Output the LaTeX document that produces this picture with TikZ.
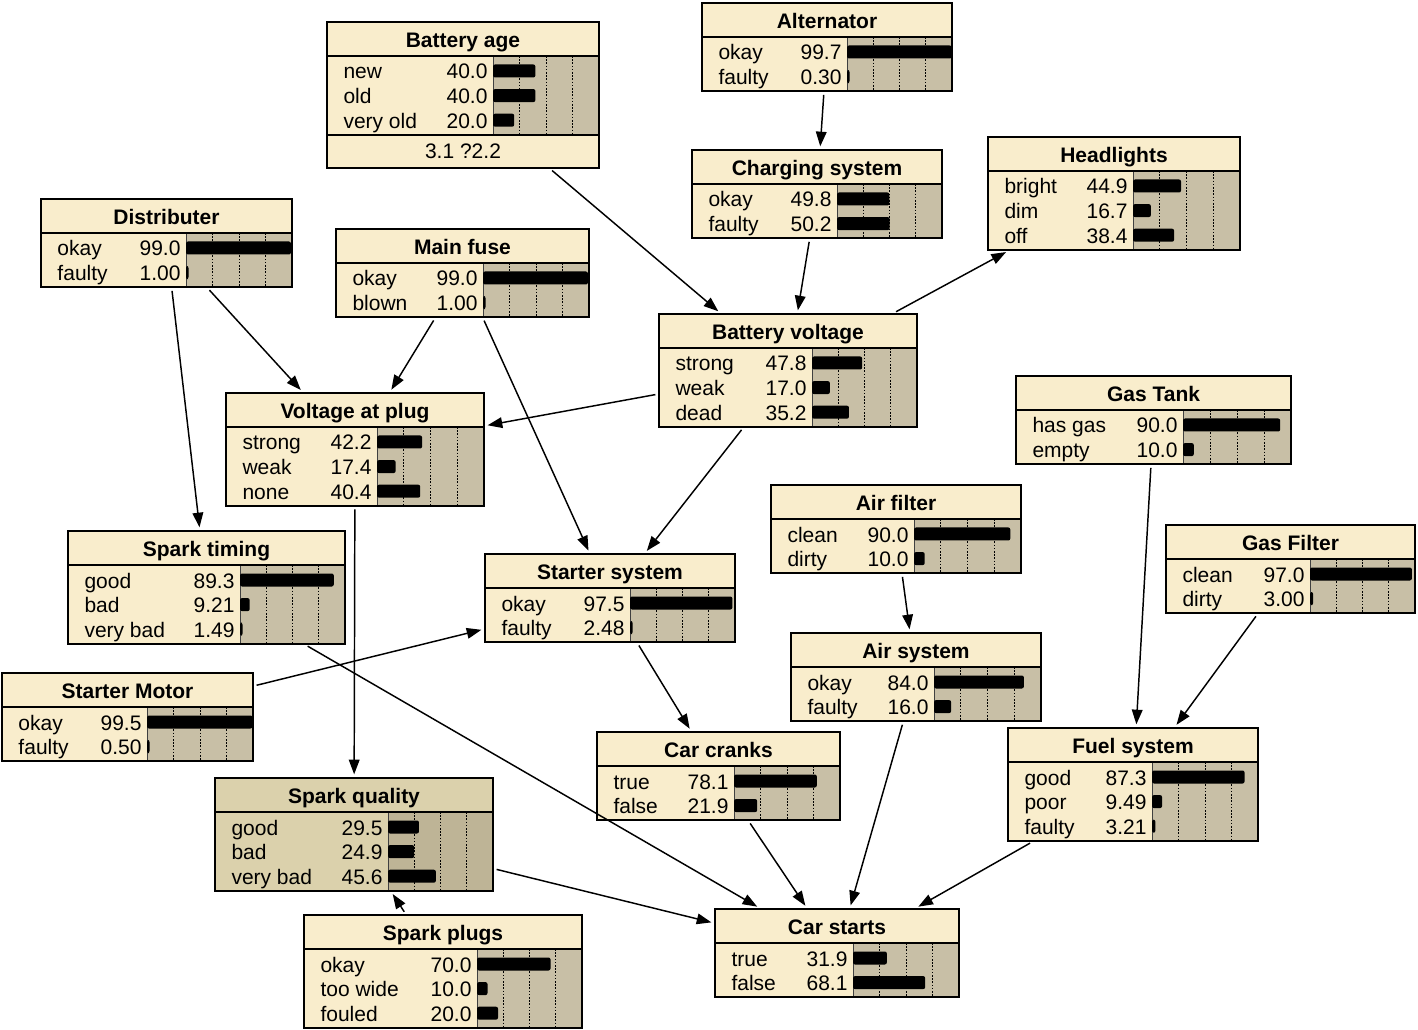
\documentclass[tikz,border=0pt]{standalone}
\usepackage{fontspec}
\setmainfont{Liberation Sans}
\usetikzlibrary{arrows.meta,fit}

\definecolor{headA}{RGB}{249,237,204}
\definecolor{panelA}{RGB}{200,191,166}
\definecolor{headB}{RGB}{219,209,172}
\definecolor{panelB}{RGB}{190,180,150}

\tikzset{every picture/.style={line width=0.75pt}}
\tikzset{
  netframe/.style={draw, line width=1.5pt, inner sep=0pt},
  sepline/.style={line width=1.5pt},
  gridline/.style={line width=0.75pt, dash pattern=on 1.2pt off 1.2pt},
  probbar/.style={fill=black, rounded corners=1.5pt},
  titletext/.style={font=\fontsize{15.75}{18}\selectfont\bfseries, inner sep=0pt, anchor=base},
  statetext/.style={font=\fontsize{15.75}{18}\selectfont, inner sep=0pt},
  edgearrow/.style={-{Triangle[length=11pt,width=8pt]}, line width=1.1pt, shorten >=2pt, shorten <=2pt},
}

% #1 colour set, #2 name, #3 left, #4 top, #5 width, #6 label part width, #7 title, #8 states, #9 footer
\newcommand{\netnode}[9][A]{%
  \foreach \s/\v [count=\k] in {#8} {\xdef\nst{\k}}%
  \pgfmathsetmacro{\yl}{#4+34}%
  \pgfmathsetmacro{\yr}{#4+34+24.6*\nst+5}%
  \pgfmathsetmacro{\xp}{#3+#6}%
  \pgfmathsetmacro{\xr}{#3+#5}%
  \pgfmathsetmacro{\pw}{#5-#6}%
  \ifx\relax#9\relax \let\yb\yr \else \pgfmathsetmacro{\yb}{\yr+33}\fi
  \fill[head#1] (#3,#4) rectangle (\xr,\yb);
  \fill[panel#1] (\xp,\yl) rectangle (\xr,\yr);
  \foreach \f in {0.25,0.5,0.75} \draw[gridline] ({\xp+\f*\pw},\yl) -- ({\xp+\f*\pw},\yr);
  \draw[black!75] (\xp,\yl) -- (\xp,\yr);
  \draw[sepline] (#3,\yl) -- (\xr,\yl);
  \node[titletext] at ({#3+#5/2},{#4+25.5}) {#7};
  \foreach \s/\v [count=\k] in {#8} {
    \pgfmathsetmacro{\yy}{#4+49+24.6*(\k-1)}
    \node[statetext, anchor=base west] at ({#3+16},{\yy+8}) {\s};
    \node[statetext, anchor=base east] at ({\xp-5},{\yy+8}) {\v};
    \fill[probbar] (\xp,{\yy-6.5}) rectangle ({\xp+max(\v/100*\pw,2.5)},{\yy+6.5});
  }
  \ifx\relax#9\relax\else
    \draw[sepline] (#3,\yr) -- (\xr,\yr);
    \node[statetext, anchor=base] at ({#3+#5/2},{\yr+24}) {#9};
  \fi
  \node[netframe, fit={(#3,#4) (\xr,\yb)}] (#2) {};
}

\begin{document}
\begin{tikzpicture}[x=0.75pt,y=0.75pt,yscale=-1,xscale=1]
\useasboundingbox (0,0) rectangle (1418,1030);

%Node: Battery age
\netnode{bage}{327}{22}{272}{166}{Battery age}{new/40.0,old/40.0,very old/20.0}{3.1 ?2.2}
%Node: Alternator
\netnode{alt}{702}{3}{250}{145}{Alternator}{okay/99.7,faulty/0.30}{}
%Node: Charging system
\netnode{chg}{692}{150}{250}{145}{Charging system}{okay/49.8,faulty/50.2}{}
%Node: Headlights
\netnode{hlight}{988}{137}{252}{145}{Headlights}{bright/44.9,dim/16.7,off/38.4}{}
%Node: Distributer
\netnode{dist}{41}{199}{251}{145}{Distributer}{okay/99.0,faulty/1.00}{}
%Node: Main fuse
\netnode{fuse}{336}{229}{253}{147}{Main fuse}{okay/99.0,blown/1.00}{}
%Node: Battery voltage
\netnode{bvolt}{659}{314}{258}{153}{Battery voltage}{strong/47.8,weak/17.0,dead/35.2}{}
%Node: Voltage at plug
\netnode{vplug}{226}{393}{258}{151}{Voltage at plug}{strong/42.2,weak/17.4,none/40.4}{}
%Node: Gas Tank
\netnode{gtank}{1016}{376}{275}{167}{Gas Tank}{has gas/90.0,empty/10.0}{}
%Node: Air filter
\netnode{afilt}{771}{485}{250}{143}{Air filter}{clean/90.0,dirty/10.0}{}
%Node: Gas Filter
\netnode{gfilt}{1166}{525}{249}{144}{Gas Filter}{clean/97.0,dirty/3.00}{}
%Node: Spark timing
\netnode{stime}{68}{531}{277}{172}{Spark timing}{good/89.3,bad/9.21,very bad/1.49}{}
%Node: Starter system
\netnode{ssys}{485}{554}{250}{145}{Starter system}{okay/97.5,faulty/2.48}{}
%Node: Air system
\netnode{asys}{791}{633}{250}{143}{Air system}{okay/84.0,faulty/16.0}{}
%Node: Starter Motor
\netnode{smotor}{2}{673}{251}{145}{Starter Motor}{okay/99.5,faulty/0.50}{}
%Node: Car cranks
\netnode{ccrank}{597}{732}{243}{137}{Car cranks}{true/78.1,false/21.9}{}
%Node: Fuel system
\netnode{fuel}{1008}{728}{250}{144}{Fuel system}{good/87.3,poor/9.49,faulty/3.21}{}
%Node: Spark quality
\netnode[B]{squal}{215}{778}{278}{173}{Spark quality}{good/29.5,bad/24.9,very bad/45.6}{}
%Node: Spark plugs
\netnode{splug}{304}{915}{278}{173}{Spark plugs}{okay/70.0,too wide/10.0,fouled/20.0}{}
%Node: Car starts
\netnode{cstart}{715}{909}{244}{138}{Car starts}{true/31.9,false/68.1}{}

%Straight Lines
\draw[edgearrow] (alt) -- (chg);
\draw[edgearrow] (bage) -- (bvolt);
\draw[edgearrow] (chg) -- (bvolt);
\draw[edgearrow] (bvolt) -- (hlight);
\draw[edgearrow] (dist) -- (vplug);
\draw[edgearrow] (dist) -- (stime);
\draw[edgearrow] (fuse) -- (vplug);
\draw[edgearrow] (fuse) -- (ssys);
\draw[edgearrow] (bvolt) -- (vplug);
\draw[edgearrow] (bvolt) -- (ssys);
\draw[edgearrow] (vplug) -- (squal);
\draw[edgearrow] (smotor) -- (ssys);
\draw[edgearrow] (ssys) -- (ccrank);
\draw[edgearrow] (stime) -- (cstart);
\draw[edgearrow] (squal) -- (cstart);
\draw[edgearrow] (splug) -- (squal);
\draw[edgearrow] (ccrank) -- (cstart);
\draw[edgearrow] (afilt) -- (asys);
\draw[edgearrow] (asys) -- (cstart);
\draw[edgearrow] (gtank) -- (fuel);
\draw[edgearrow] (gfilt) -- (fuel);
\draw[edgearrow] (fuel) -- (cstart);

\end{tikzpicture}
\end{document}
